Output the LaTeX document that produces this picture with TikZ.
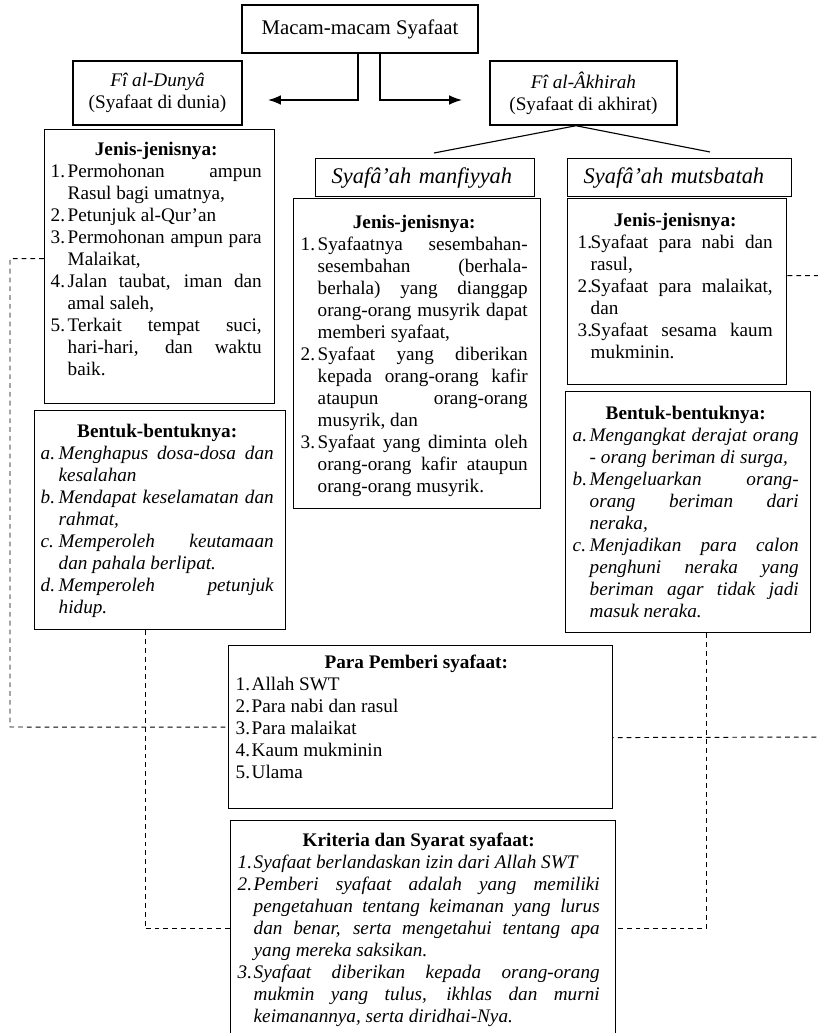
\documentclass[tikz,border=0pt]{standalone}
\usepackage{fontspec}
\setmainfont{Liberation Serif}
\usetikzlibrary{arrows.meta}

\newlength\px \setlength\px{0.625pt}
\newlength\lblw
\newcommand{\hdr}[1]{\par\noindent\hfill\textbf{#1}\hfill\null\par}
\newcommand{\itm}[2]{\par\noindent\hangindent=\lblw\hangafter=1\makebox[\lblw][l]{#1}#2\par}
\newcommand{\pane}[6]{\parbox[t][#5\px][t]{#4\px}{\fontsize{12}{13.75}\selectfont
  \leftskip=#1\px\rightskip=#2\px\setlength\lblw{#3\px}%
  \hyphenpenalty=10000\exhyphenpenalty=10000\hbadness=10000 #6}}

\begin{document}
\begin{tikzpicture}[x=0.625pt,y=-0.625pt,
  head/.style={draw,line width=0.9pt,align=center,font=\fontsize{12}{13.75}\selectfont},
  sub/.style={draw,line width=0.9pt,anchor=north west,inner xsep=10pt,minimum height=23.75pt,align=left,font=\fontsize{14}{16}\selectfont\itshape},
  box/.style={draw,line width=0.9pt,anchor=north west,inner xsep=0pt},
  arr/.style={line width=0.9pt,-{Latex[length=8pt,width=6pt]}},
  dsh/.style={line width=0.6pt,dash pattern=on 3pt off 2.5pt}]
\useasboundingbox (0,0) rectangle (817,1033);

\node[head,minimum width=147.5pt,minimum height=30pt,font=\fontsize{13}{15}\selectfont] (title) at (360,29) {Macam-macam Syafaat};
\node[head,minimum width=105.6pt,minimum height=40pt] (dunya) at (157.5,93) {\textit{Fî al-Dunyâ}\\(Syafaat di dunia)};
\node[head,minimum width=116.9pt,minimum height=40pt] (akh) at (583.5,93) {\textit{Fî al-Âkhirah}\\(Syafaat di akhirat)};
\node[sub,text width=116.9pt] (manf) at (315,158) {Syafâ’ah manfiyyah};
\node[sub,text width=120pt] (muts) at (567,158) {Syafâ’ah mutsbatah};

\node[box,inner ysep=7.5pt] (lj) at (44,129) {\pane{6}{13}{17}{230}{250}{\hdr{Jenis-jenisnya:}
  \itm{1.}{Permohonan ampun \linebreak Rasul bagi umatnya,}
  \itm{2.}{Petunjuk al-Qur’an}
  \itm{3.}{Permohonan ampun para \linebreak Malaikat,}
  \itm{4.}{Jalan taubat, iman dan \linebreak amal saleh,}
  \itm{5.}{Terkait tempat suci, \linebreak hari-hari, dan waktu \linebreak baik.}}};
\node[box,inner ysep=8.1pt] (lb) at (34,410) {\pane{6}{12}{18}{251}{193}{\hdr{Bentuk-bentuknya:}\itshape
  \itm{a.}{Menghapus dosa-dosa dan \linebreak kesalahan}
  \itm{b.}{Mendapat keselamatan dan \linebreak rahmat,}
  \itm{c.}{Memperoleh keutamaan \linebreak dan pahala berlipat.}
  \itm{d.}{Memperoleh petunjuk \linebreak hidup.}}};
\node[box,inner ysep=10pt] (mj) at (293,198) {\pane{7}{13}{17}{247}{278}{\hdr{Jenis-jenisnya:}
  \itm{1.}{Syafaatnya sesembahan-\linebreak sesembahan (berhala-\linebreak berhala) yang dianggap \linebreak orang-orang musyrik dapat \linebreak memberi syafaat,}
  \itm{2.}{Syafaat yang diberikan \linebreak kepada orang-orang kafir \linebreak ataupun orang-orang \linebreak musyrik, dan}
  \itm{3.}{Syafaat yang diminta oleh \linebreak orang-orang kafir ataupun \linebreak orang-orang musyrik.}}};
\node[box,inner ysep=8.75pt] (mtj) at (567,198) {\pane{10}{14}{13}{219}{158}{\hdr{Jenis-jenisnya:}
  \itm{1.}{Syafaat para nabi dan \linebreak rasul,}
  \itm{2.}{Syafaat para malaikat, \linebreak dan}
  \itm{3.}{Syafaat sesama kaum \linebreak mukminin.}}};
\node[box,inner ysep=8.75pt] (mtb) at (565,391) {\pane{7}{12}{17}{245}{213}{\hdr{Bentuk-bentuknya:}\itshape
  \itm{a.}{Mengangkat derajat orang \linebreak - orang beriman di surga,}
  \itm{b.}{Mengeluarkan orang-\linebreak orang beriman dari \linebreak neraka,}
  \itm{c.}{Menjadikan para calon \linebreak penghuni neraka yang \linebreak beriman agar tidak jadi \linebreak masuk neraka.}}};
\node[box,inner ysep=5.6pt] (pp) at (228,645) {\pane{7}{16}{16}{384}{145}{\hdr{Para Pemberi syafaat:}
  \itm{1.}{Allah SWT}
  \itm{2.}{Para nabi dan rasul}
  \itm{3.}{Para malaikat}
  \itm{4.}{Kaum mukminin}
  \itm{5.}{Ulama}}};
\node[box,inner ysep=7.5pt] (kr) at (230,820) {\pane{7}{16}{16}{385}{192}{\hdr{Kriteria dan Syarat syafaat:}\itshape
  \itm{1.}{Syafaat berlandaskan izin dari Allah SWT}
  \itm{2.}{Pemberi syafaat adalah yang memiliki \linebreak pengetahuan tentang keimanan yang lurus \linebreak dan benar, serta mengetahui tentang apa \linebreak yang mereka saksikan.}
  \itm{3.}{Syafaat diberikan kepada orang-orang \linebreak mukmin yang tulus, ikhlas dan murni \linebreak keimanannya, serta diridhai-Nya.}}};

\coordinate (dl) at (268,100); \coordinate (ar) at (462,100);
\coordinate (bl) at (434,153); \coordinate (br) at (710,152);
\coordinate (lc) at (10,727); \coordinate (rc) at (822,737);
\coordinate (lx) at (145,0); \coordinate (rx) at (706,0);

\draw[arr] ([xshift=-1.25pt]title.south) |- (dl);
\draw[arr] ([xshift=12.5pt]title.south) |- (ar);
\draw[line width=0.7pt] ([xshift=-4.7pt]akh.south) -- (bl);
\draw[line width=0.7pt] ([xshift=-4.7pt]akh.south) -- (br);
\draw[dsh] ([yshift=5pt]lj.west) -| (lc) -- (pp.west);
\draw[dsh] ([yshift=10pt]mtj.east) -| (rc) -- ([yshift=-6.5pt]pp.east);
\draw[dsh] (lb.south -| lx) |- (kr.west);
\draw[dsh] (mtb.south -| rx) |- (kr.east);
\end{tikzpicture}
\end{document}
